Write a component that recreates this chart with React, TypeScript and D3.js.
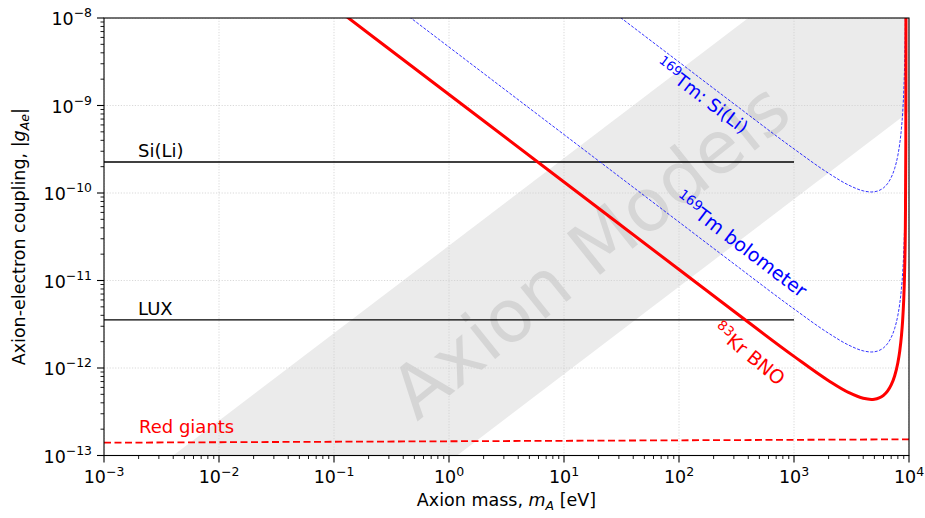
import React from 'react';
import * as d3 from 'd3';

// axion mass grid (eV) shared by the three limit curves
const massGrid = [0.1, 1, 10, 100, 300, 1000, 2000, 3000, 4000, 4700, 5000, 5500, 6000, 6500, 7000, 7500, 8000, 8300, 8600, 8800, 9000, 9100, 9200, 9300, 9380, 9400, 9404];

// |g_Ae| limits
const krBNO = [1.335e-8, 1.335e-9, 1.335e-10, 1.335e-11, 4.457e-12, 1.358e-12, 7.155e-13, 5.227e-13, 4.502e-13, 4.371e-13, 4.394e-13, 4.548e-13, 4.872e-13, 5.44e-13, 6.403e-13, 8.103e-13, 1.148e-12, 1.546e-12, 2.34e-12, 3.452e-12, 6.064e-12, 9.104e-12, 1.621e-11, 4.341e-11, 3.676e-10, 4.097e-9, 4.58e-8];
const tmSiLi = [3.137e-6, 3.137e-7, 3.137e-8, 3.137e-9, 1.047e-9, 3.191e-10, 1.681e-10, 1.228e-10, 1.058e-10, 1.027e-10, 1.033e-10, 1.069e-10, 1.145e-10, 1.278e-10, 1.505e-10, 1.904e-10, 2.697e-10, 3.634e-10, 5.499e-10, 8.112e-10, 1.425e-9, 2.139e-9, 3.809e-9, 1.02e-8, 8.64e-8, 9.63e-7, 1.08e-5];
const tmBolo = [4.655e-8, 4.655e-9, 4.655e-10, 4.656e-11, 1.554e-11, 4.735e-12, 2.495e-12, 1.823e-12, 1.57e-12, 1.524e-12, 1.532e-12, 1.586e-12, 1.699e-12, 1.897e-12, 2.233e-12, 2.825e-12, 4.003e-12, 5.392e-12, 8.161e-12, 1.204e-11, 2.114e-11, 3.175e-11, 5.652e-11, 1.514e-10, 1.282e-9, 1.429e-8, 1.6e-7];

// flat limits
const siliMass = [1e-3, 1e3];
const siliG = [2.26e-10, 2.26e-10];
const luxMass = [1e-3, 1e3];
const luxG = [3.54e-12, 3.54e-12];
const redGiantMass = [1e-3, 1e4];
const redGiantG = [1.40e-13, 1.53e-13];

// axion model band (g proportional to m)
const bandMass = [1e-3, 1e4];
const bandUpper = [2.5e-14, 2.5e-7];
const bandLower = [8.5e-17, 8.5e-10];

const xExps = [-3, -2, -1, 0, 1, 2, 3, 4];
const yExps = [-13, -12, -11, -10, -9, -8];

const W = 925, H = 518;
const left = 104, right = 909, top = 18, bottom = 455.5;
const font = 'DejaVu Sans';

function pairs(xs: number[], ys: number[]): [number, number][] {
  return xs.map((d, i) => [d, ys[i]] as [number, number]);
}

function Pow({exp, size, sup}: {exp: number, size: number, sup: number}) {
  return (
    <>
      <tspan>10</tspan>
      <tspan fontSize={size * 0.71} dy={-sup}>{'\u2212' + Math.abs(exp)}</tspan>
    </>
  );
}

export default function App() {
  const x = d3.scaleLog().domain([1e-3, 1e4]).range([left, right]);
  const y = d3.scaleLog().domain([1e-13, 1e-8]).range([bottom, top]);

  const line = d3.line<[number, number]>()
    .x(d => x(d[0]))
    .y(d => y(d[1]))
    .curve(d3.curveMonotoneX);

  const band = d3.area<number>()
    .x(d => x(d))
    .y0((d, i) => y(bandLower[i]))
    .y1((d, i) => y(bandUpper[i]));

  // minor ticks 2..9 in every decade
  const xMinor: number[] = [];
  xExps.slice(0, -1).forEach(e => d3.range(2, 10).forEach(k => xMinor.push(k * Math.pow(10, e))));
  const yMinor: number[] = [];
  yExps.slice(0, -1).forEach(e => d3.range(2, 10).forEach(k => yMinor.push(k * Math.pow(10, e))));

  const angle = Math.atan((y(1e-12) - y(1e-11)) / (x(10) - x(1))) * 180 / Math.PI;
  const fs = 18;

  return (
    <svg width={W} height={H} style={{position: 'absolute', left: 0, top: 0, background: '#fff'}}
      fontFamily={font}>
      <defs>
        <clipPath id="plot">
          <rect x={left} y={top} width={right - left} height={bottom - top} />
        </clipPath>
      </defs>

      <g clipPath="url(#plot)">
        <path d={band(bandMass) || ''} fill="#ebebeb" />
        <text transform={`translate(590,250) rotate(${-angle - 1.5})`} textAnchor="middle" dy="0.35em"
          fontSize={73} fill="#808080" opacity={0.2}>Axion Models</text>

        {/* grid */}
        {xExps.map(e => (
          <line key={'gx' + e} x1={x(Math.pow(10, e))} x2={x(Math.pow(10, e))} y1={top} y2={bottom}
            stroke="#cfcfcf" strokeWidth={0.8} strokeDasharray="1.2,1.6" />
        ))}
        {yExps.map(e => (
          <line key={'gy' + e} y1={y(Math.pow(10, e))} y2={y(Math.pow(10, e))} x1={left} x2={right}
            stroke="#cfcfcf" strokeWidth={0.8} strokeDasharray="1.2,1.6" />
        ))}

        <path d={line(pairs(siliMass, siliG)) || ''} fill="none" stroke="#000" strokeWidth={1.3} />
        <path d={line(pairs(luxMass, luxG)) || ''} fill="none" stroke="#000" strokeWidth={1.3} />
        <path d={line(pairs(redGiantMass, redGiantG)) || ''} fill="none" stroke="#f00" strokeWidth={1.8}
          strokeDasharray="7,3.5" />
        <path d={line(pairs(massGrid, tmSiLi)) || ''} fill="none" stroke="#0000ff" strokeWidth={0.8}
          strokeDasharray="3,1.5" />
        <path d={line(pairs(massGrid, tmBolo)) || ''} fill="none" stroke="#0000ff" strokeWidth={0.8}
          strokeDasharray="3,1.5" />
        <path d={line(pairs(massGrid, krBNO)) || ''} fill="none" stroke="#f00" strokeWidth={3} />
      </g>

      {/* annotations */}
      <text x={138} y={157} fontSize={fs} fill="#000">Si(Li)</text>
      <text x={138} y={315} fontSize={fs} fill="#000">LUX</text>
      <text x={139} y={433} fontSize={fs} fill="#f00">Red giants</text>
      <text transform={`translate(698,101) rotate(${angle})`} textAnchor="middle" dy="0.35em" fontSize={fs} fill="#0000ff">
        <tspan fontSize={13} dy={-7}>169</tspan><tspan dy={7}>Tm: Si(Li)</tspan>
      </text>
      <text transform={`translate(737,250) rotate(${angle})`} textAnchor="middle" dy="0.35em" fontSize={19} fill="#0000ff">
        <tspan fontSize={13.5} dy={-7}>169</tspan><tspan dy={7}>Tm bolometer</tspan>
      </text>
      <text transform={`translate(745,359) rotate(${angle + 2})`} textAnchor="middle" dy="0.35em" fontSize={19} fill="#f00">
        <tspan fontSize={13.5} dy={-7}>83</tspan><tspan dy={7}>Kr BNO</tspan>
      </text>

      {/* frame */}
      <rect x={left} y={top} width={right - left} height={bottom - top} fill="none" stroke="#000" strokeWidth={1.1} />

      {/* x axis ticks */}
      {xMinor.map((v, i) => (
        <line key={'xm' + i} x1={x(v)} x2={x(v)} y1={bottom} y2={bottom + 3.5} stroke="#000" strokeWidth={0.9} />
      ))}
      {xExps.map(e => (
        <g key={'xt' + e}>
          <line x1={x(Math.pow(10, e))} x2={x(Math.pow(10, e))} y1={bottom} y2={bottom + 7} stroke="#000" strokeWidth={1.1} />
          <text x={x(Math.pow(10, e))} y={483} textAnchor="middle" fontSize={17.5}>
            {e < 0 ? <Pow exp={e} size={17.5} sup={7} /> : <><tspan>10</tspan><tspan fontSize={12.5} dy={-7}>{e}</tspan></>}
          </text>
        </g>
      ))}

      {/* y axis ticks */}
      {yMinor.map((v, i) => (
        <line key={'ym' + i} y1={y(v)} y2={y(v)} x1={left} x2={left - 3.5} stroke="#000" strokeWidth={0.9} />
      ))}
      {yExps.map(e => (
        <g key={'yt' + e}>
          <line y1={y(Math.pow(10, e))} y2={y(Math.pow(10, e))} x1={left} x2={left - 7} stroke="#000" strokeWidth={1.1} />
          <text x={92} y={y(Math.pow(10, e)) + 7} textAnchor="end" fontSize={17.5}>
            <Pow exp={e} size={17.5} sup={8} />
          </text>
        </g>
      ))}

      {/* axis titles */}
      <text x={(left + right) / 2} y={506} textAnchor="middle" fontSize={17.5}>
        Axion mass, <tspan fontStyle="italic">m</tspan><tspan fontStyle="italic" fontSize={12.5} dy={4}>A</tspan>
        <tspan dy={-4}> [eV]</tspan>
      </text>
      <text transform={`translate(25,${(top + bottom) / 2}) rotate(-90)`} textAnchor="middle" fontSize={17.5}>
        Axion-electron coupling, |<tspan fontStyle="italic">g</tspan><tspan fontStyle="italic" fontSize={12.5} dy={4}>Ae</tspan><tspan dy={-4}>|</tspan>
      </text>
    </svg>
  );
}
